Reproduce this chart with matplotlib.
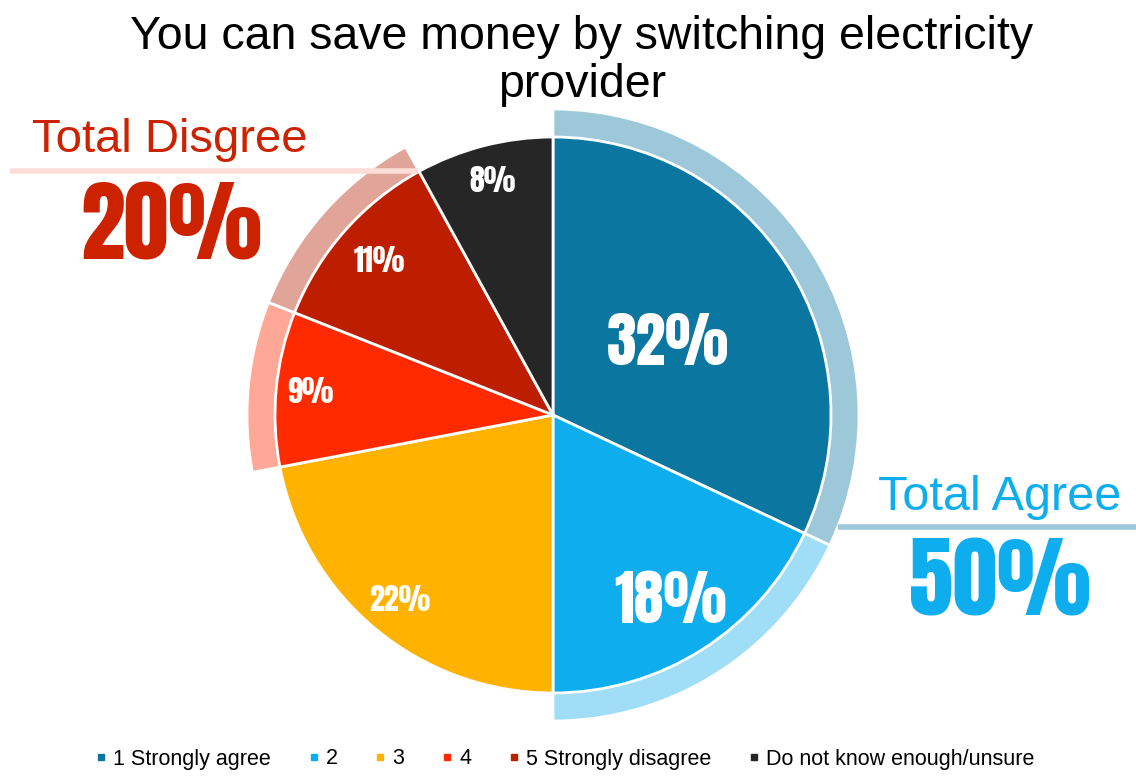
import numpy as np
import matplotlib
matplotlib.use("Agg")
import matplotlib.pyplot as plt
from matplotlib.lines import Line2D

# data
categories = ["1 Strongly agree", "2", "3", "4", "5 Strongly disagree", "Do not know enough/unsure"]
values = [32, 18, 22, 9, 11, 8]
slice_colors = ["#0B77A1", "#0DADEE", "#FFB300", "#FF2A00", "#BE1E00", "#262626"]
ring_colors = ["#9DC8DA", "#A0DEF7", "none", "#FFA898", "#E0A498", "none"]
total_agree = 50
total_disagree = 20
title = "You can save money by switching electricity\nprovider"

W, H = 1136, 776
fig = plt.figure(figsize=(W / 100, H / 100), dpi=100)
ax = fig.add_axes([0, 0, 1, 1])

cx, cy = 553, H - 415
R = 278
ring_w = 28

impact = ["Anton", "Oswald", "Open Sans Condensed", "DejaVu Sans"]
sans = ["Liberation Sans", "DejaVu Sans"]

# outer highlight ring
ring_wedges, _ = ax.pie(values, colors=ring_colors, radius=R + ring_w, center=(cx, cy),
                        startangle=90, counterclock=False, frame=True,
                        wedgeprops=dict(width=ring_w + 2, edgecolor="white", linewidth=2))
for w, c in zip(ring_wedges, ring_colors):
    if c == "none":
        w.set_edgecolor("none")

wedges, _ = ax.pie(values, colors=slice_colors, radius=R, center=(cx, cy),
                   startangle=90, counterclock=False, frame=True,
                   wedgeprops=dict(edgecolor="white", linewidth=2))
ax.set_xlim(0, W)
ax.set_ylim(0, H)
ax.set_aspect("equal")
ax.axis("off")

# slice labels
label_r = [0.49, 0.79, 0.865, 0.875, 0.835, 0.87]
label_size = [43, 43, 21.5, 21.5, 21.5, 21.5]
for w, v, fr, fs in zip(wedges, values, label_r, label_size):
    mid = np.deg2rad((w.theta1 + w.theta2) / 2)
    ax.text(cx + fr * R * np.cos(mid), cy + fr * R * np.sin(mid), f"{v}%",
            ha="center", va="center", color="white", fontsize=fs,
            family=impact)

# title
fig.text(582 / W, 1 - 61 / H, title, ha="center", va="center",
         fontsize=33.5, family=sans, color="black", linespacing=1.13)

# total disagree callout
ax.plot([10, 418], [H - 171, H - 171], color="#FCDDD8", lw=4, solid_capstyle="butt")
ax.text(170, H - 140, "Total Disgree", ha="center", va="center",
        fontsize=34, family=sans, color="#CC2200")
ax.text(171, H - 227, f"{total_disagree}%", ha="center", va="center",
        fontsize=64, family=impact, color="#CC2200")

# total agree callout
ax.plot([838, W], [H - 527, H - 527], color="#9DC8DA", lw=4, solid_capstyle="butt")
ax.text(1000, H - 497, "Total Agree", ha="center", va="center",
        fontsize=35, family=sans, color="#0DADEE")
ax.text(1000, H - 582, f"{total_agree}%", ha="center", va="center",
        fontsize=64, family=impact, color="#0DADEE")

# legend
handles = [Line2D([], [], marker="s", ls="none", markersize=5,
                  markerfacecolor=c, markeredgecolor=c) for c in slice_colors]
fig.legend(handles, categories, loc="center", bbox_to_anchor=(565 / W, 1 - 759 / H),
           ncol=6, frameon=False, handletextpad=0.3, columnspacing=1.75,
           handlelength=0.5, prop={"family": sans, "size": 15.5})

fig.savefig("out.png", dpi=100)
